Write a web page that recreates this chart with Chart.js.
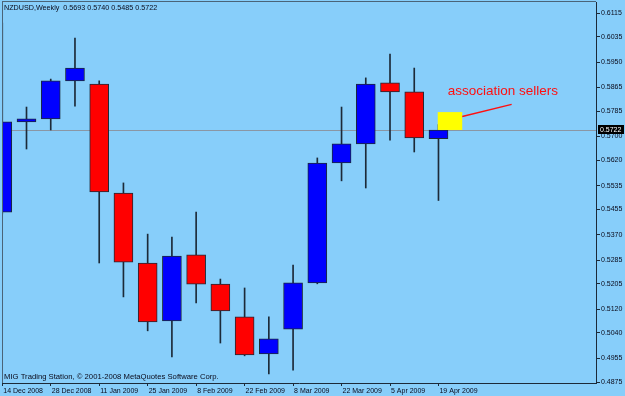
<!DOCTYPE html>
<html>
<head>
<meta charset="utf-8">
<script src="https://cdn.jsdelivr.net/npm/chart.js@4.4.1/dist/chart.umd.min.js"></script>
<style>
  html, body { margin: 0; padding: 0; background: #87cefa; }
  #wrap { width: 625px; height: 396px; }
</style>
</head>
<body>
<div id="wrap"><canvas id="chart" width="625" height="396"></canvas></div>
<script>
// --- DONNEES (hebdo NZDUSD) ---
const weeks = ['14 Dec 2008', '21 Dec 2008', '28 Dec 2008', '4 Jan 2009', '11 Jan 2009', '18 Jan 2009',
  '25 Jan 2009', '1 Feb 2009', '8 Feb 2009', '15 Feb 2009', '22 Feb 2009', '1 Mar 2009', '8 Mar 2009',
  '15 Mar 2009', '22 Mar 2009', '29 Mar 2009', '5 Apr 2009', '12 Apr 2009', '19 Apr 2009'];
const opens  = [0.5446, 0.5749, 0.5759, 0.5887, 0.5876, 0.5510, 0.5275, 0.5080, 0.5302, 0.5204,
  0.5094, 0.4969, 0.5053, 0.5208, 0.5611, 0.5675, 0.5880, 0.5850, 0.5693];
const highs  = [0.6081, 0.5799, 0.5893, 0.6031, 0.5887, 0.5544, 0.5372, 0.5362, 0.5446, 0.5221,
  0.5191, 0.5094, 0.5268, 0.5628, 0.5799, 0.5897, 0.5977, 0.5930, 0.5740];
const lows   = [0.5440, 0.5658, 0.5722, 0.5802, 0.5275, 0.5161, 0.5047, 0.4959, 0.5141, 0.5006,
  0.4963, 0.4902, 0.4915, 0.5205, 0.5551, 0.5527, 0.5688, 0.5648, 0.5485];
const closes = [0.5749, 0.5759, 0.5887, 0.5930, 0.5514, 0.5278, 0.5077, 0.5298, 0.5204, 0.5114,
  0.4966, 0.5020, 0.5208, 0.5611, 0.5675, 0.5876, 0.5850, 0.5695, 0.5722];
const priceTicks = [0.6115, 0.6035, 0.5950, 0.5865, 0.5785, 0.5700, 0.5620, 0.5535, 0.5455, 0.5370,
  0.5285, 0.5205, 0.5120, 0.5040, 0.4955, 0.4875];

const titleText = 'NZDUSD,Weekly  0.5693 0.5740 0.5485 0.5722';
const footText = 'MIG Trading Station, \u00a9 2001-2008 MetaQuotes Software Corp.';
const noteText = 'association sellers';
// zone jaune + trait de l'annotation (index de semaine, prix)
const noteBox = { x0: 17.97, x1: 18.98, top: 0.5782, bottom: 0.5722 };
const noteLine = { x0: 18.98, p0: 0.5767, x1: 21.02, p1: 0.5808 };
const noteAt = { x: 18.38, p: 0.5841 };

const FONT = "'Liberation Sans', Arial, sans-serif";
const dark = '#1c2a38';
const lastClose = closes[closes.length - 1];

// --- DECOR : ligne de prix, annotation, textes ---
const mt4 = {
  id: 'mt4',
  beforeDatasetsDraw(chart) {
    const { ctx, chartArea: a, scales: { y } } = chart;
    const py = Math.round(y.getPixelForValue(lastClose)) + 0.5;
    ctx.save();
    ctx.strokeStyle = '#8a96a4';
    ctx.lineWidth = 1;
    ctx.beginPath();
    ctx.moveTo(a.left, py);
    ctx.lineTo(a.right, py);
    ctx.stroke();
    ctx.restore();
  },
  afterDatasetsDraw(chart) {
    const { ctx, scales: { x, y } } = chart;
    ctx.save();
    const bx0 = x.getPixelForValue(noteBox.x0), bx1 = x.getPixelForValue(noteBox.x1);
    const by0 = y.getPixelForValue(noteBox.top), by1 = y.getPixelForValue(noteBox.bottom);
    ctx.fillStyle = '#ffff00';
    ctx.fillRect(bx0, by0, bx1 - bx0, by1 - by0);
    ctx.strokeStyle = '#ff1010';
    ctx.lineWidth = 1.5;
    ctx.beginPath();
    ctx.moveTo(x.getPixelForValue(noteLine.x0), y.getPixelForValue(noteLine.p0));
    ctx.lineTo(x.getPixelForValue(noteLine.x1), y.getPixelForValue(noteLine.p1));
    ctx.stroke();
    ctx.fillStyle = '#ff1010';
    ctx.font = "13.5px 'Liberation Sans', sans-serif";
    ctx.textBaseline = 'alphabetic';
    ctx.fillText(noteText, x.getPixelForValue(noteAt.x), y.getPixelForValue(noteAt.p));
    ctx.restore();
  },
  afterDraw(chart) {
    const { ctx, chartArea: a, scales: { y } } = chart;
    ctx.save();
    // cadre haut / gauche
    ctx.strokeStyle = '#4a6478';
    ctx.lineWidth = 1;
    ctx.beginPath();
    ctx.moveTo(a.left, 1.5);
    ctx.lineTo(a.right, 1.5);
    ctx.moveTo(a.left + 0.5, 1.5);
    ctx.lineTo(a.left + 0.5, a.bottom);
    ctx.stroke();
    // textes
    ctx.fillStyle = '#0a0a1a';
    ctx.textBaseline = 'middle';
    ctx.font = '7.2px ' + FONT;
    ctx.fillText(titleText, 4, 8);
    ctx.font = '7.7px ' + FONT;
    ctx.fillText(footText, 4, 377);
    // etiquette du dernier prix
    ctx.font = '7px ' + FONT;
    const py = Math.round(y.getPixelForValue(lastClose));
    ctx.fillStyle = '#000';
    ctx.fillRect(a.right + 2, py - 5, 26, 9);
    ctx.fillStyle = '#fff';
    ctx.fillText(lastClose.toFixed(4), a.right + 4, py);
    ctx.restore();
  }
};

new Chart(document.getElementById('chart'), {
  type: 'bar',
  data: {
    datasets: [
      {
        label: 'corps',
        order: 0,
        data: weeks.map((w, i) => ({ x: i, y: [opens[i], closes[i]] })),
        backgroundColor: closes.map((c, i) => c >= opens[i] ? '#0000ff' : '#ff0000'),
        borderColor: dark,
        borderWidth: 1,
        borderSkipped: false,
        barThickness: 19,
        grouped: false,
        clip: 0
      },
      {
        label: 'meches',
        order: 1,
        data: weeks.map((w, i) => ({ x: i, y: [lows[i], highs[i]] })),
        backgroundColor: dark,
        borderWidth: 0,
        barThickness: 1,
        grouped: false,
        clip: 0
      }
    ]
  },
  plugins: [mt4],
  options: {
    responsive: false,
    animation: false,
    devicePixelRatio: 1,
    layout: { padding: { top: 2, left: 2, right: 0, bottom: 0 } },
    plugins: { legend: { display: false }, tooltip: { enabled: false } },
    scales: {
      x: {
        type: 'linear',
        min: -0.011,
        max: 24.5,
        offset: false,
        grid: { offset: false, drawOnChartArea: false, tickLength: 3, color: dark },
        border: { color: dark },
        afterBuildTicks: s => { s.ticks = weeks.map((w, i) => i).filter(i => i % 2 === 0).map(v => ({ value: v })); },
        afterFit: s => { s.height = 13; s.paddingLeft = 0; s.paddingRight = 0; },
        ticks: {
          autoSkip: false, maxRotation: 0, align: 'start', padding: 1, labelOffset: 1,
          color: '#0a0a1a', font: { family: FONT, size: 7 },
          callback: v => weeks[v]
        }
      },
      y: {
        type: 'linear',
        position: 'right',
        min: 0.48717,
        max: 0.6152,
        beginAtZero: false,
        bounds: 'data',
        grid: { drawOnChartArea: false, tickLength: 4, color: dark },
        border: { color: dark },
        afterBuildTicks: s => { s.ticks = priceTicks.map(v => ({ value: v })); },
        afterFit: s => { s.width = 29; s.paddingTop = 0; s.paddingBottom = 0; },
        ticks: {
          padding: 1, color: '#0a0a1a', font: { family: FONT, size: 7 },
          callback: v => v.toFixed(4)
        }
      }
    }
  }
});
</script>
</body>
</html>
